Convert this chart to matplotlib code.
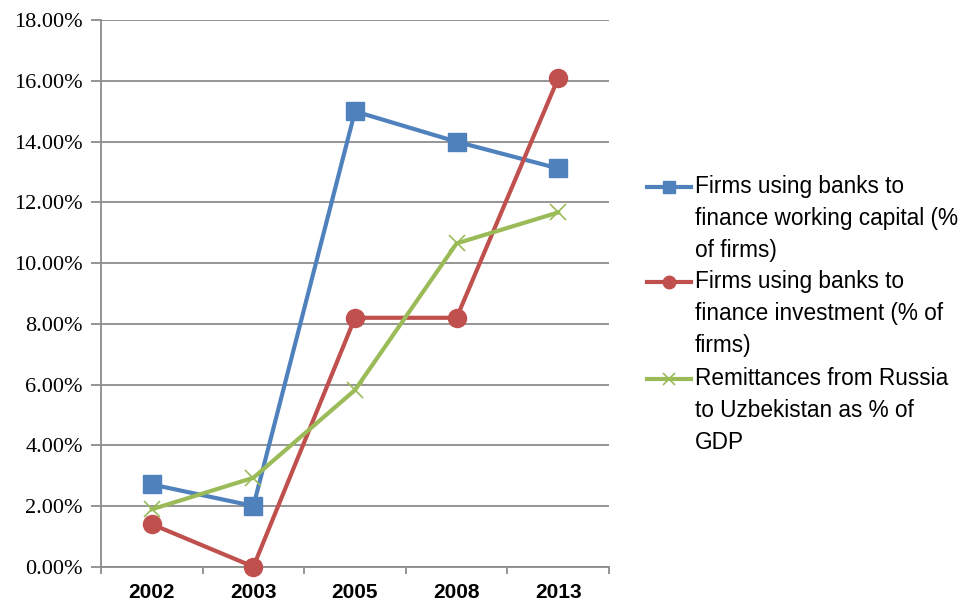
import matplotlib
matplotlib.use('Agg')
import matplotlib.pyplot as plt
from matplotlib.lines import Line2D
from matplotlib.ticker import FuncFormatter, MultipleLocator

years = ['2002', '2003', '2005', '2008', '2013']
work_cap = [2.71, 2.00, 15.0, 14.0, 13.12]
invest = [1.40, 0.00, 8.20, 8.20, 16.09]
remit = [1.89, 2.93, 5.82, 10.65, 11.67]
names = ['Firms using banks to\nfinance working capital (%\nof firms)',
         'Firms using banks to\nfinance investment (% of\nfirms)',
         'Remittances from Russia\nto Uzbekistan as % of\nGDP']

BLUE = '#4F81BD'
RED = '#C0504D'
GREEN = '#9BBB59'
GRID = '#8C8C8C'

W, H = 968, 603
fig = plt.figure(figsize=(W / 100, H / 100), dpi=100)
ax = fig.add_axes([101 / W, 1 - 566.7 / H, 508 / W, 546.4 / H])

xs = list(range(len(years)))
styles = [
    dict(color=BLUE, marker='s', markersize=12.5, lw=3),
    dict(color=RED, marker='o', markersize=13, lw=3),
    dict(color=GREEN, marker='x', markersize=12, markeredgewidth=1.2, lw=3),
]
for vals, st in zip([work_cap, invest, remit], styles):
    ax.plot(xs, vals, clip_on=False, zorder=3, **st)

ax.set_xlim(-0.5, len(years) - 0.5)
ax.set_ylim(0, 18)
ax.yaxis.set_major_locator(MultipleLocator(2))
ax.yaxis.set_major_formatter(FuncFormatter(lambda v, p: '%.2f%%' % v))
ax.grid(axis='y', color=GRID, lw=1.3)
ax.set_axisbelow(True)

# category labels centred, ticks on band edges
ax.set_xticks(xs)
ax.set_xticklabels(years, fontsize=15, fontweight='bold', family='Liberation Sans')
ax.tick_params(axis='x', length=0, pad=12)
ax.set_xticks([i - 0.5 for i in range(len(years) + 1)], minor=True)
ax.tick_params(axis='x', which='minor', length=5, color=GRID, width=1.3, direction='out')
ax.tick_params(axis='y', length=7, color=GRID, width=1.3, pad=6, labelsize=16)
for lab in ax.get_yticklabels():
    lab.set_family('Liberation Serif')

for s in ['top', 'right']:
    ax.spines[s].set_visible(False)
for s in ['left', 'bottom']:
    ax.spines[s].set_color(GRID)
    ax.spines[s].set_linewidth(1.3)

# legend drawn by hand so the key sits on the first text line
tops = [180, 275, 372]
for name, st, top in zip(names, styles, tops):
    yc = 1 - (top + 7) / H
    fig.add_artist(Line2D([647 / W, 691 / W], [yc, yc], transform=fig.transFigure,
                          color=st['color'], lw=3))
    fig.add_artist(Line2D([669 / W], [yc], transform=fig.transFigure,
                          color=st['color'], marker=st['marker'], markersize=9,
                          markeredgewidth=st.get('markeredgewidth', 1)))
    fig.text(695 / W, 1 - (top - 5) / H, name, fontsize=16.3, family='Liberation Sans',
             va='top', ha='left', linespacing=1.5)

fig.savefig('out.png', dpi=100, facecolor='white')
